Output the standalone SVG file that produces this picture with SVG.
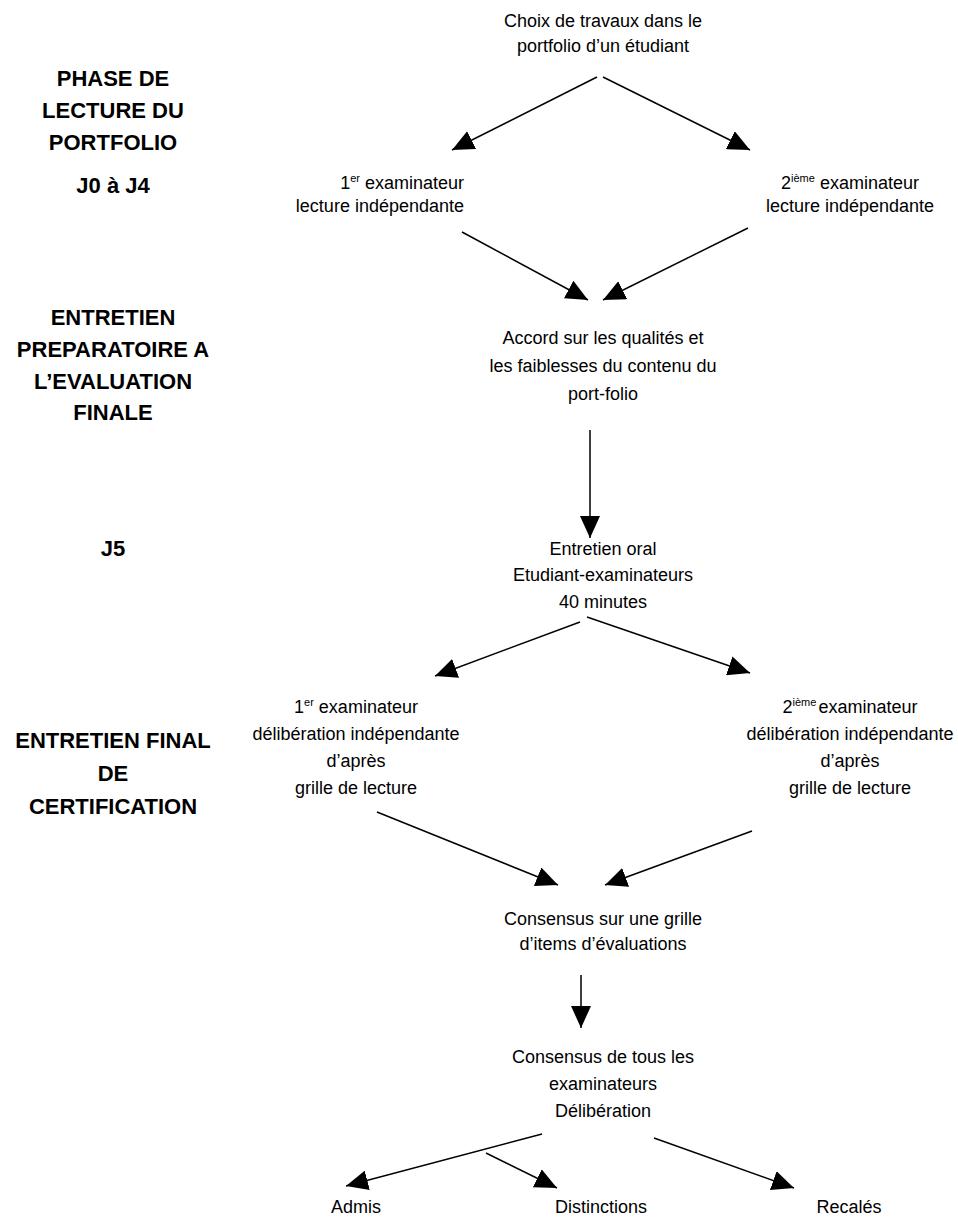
<svg xmlns="http://www.w3.org/2000/svg" width="958" height="1220" viewBox="0 0 958 1220">
<style>
.t{font-family:"Liberation Sans",Arial,sans-serif;font-size:18px;fill:#000;text-anchor:middle}
.e{text-anchor:end}
.b{font-family:"Liberation Sans",Arial,sans-serif;font-size:22px;font-weight:bold;fill:#000;text-anchor:middle}
.s{font-size:11px}
.c{stroke:#000;stroke-width:1.5;fill:none;marker-end:url(#ah)}
</style>
<defs>
<marker id="ah" markerUnits="userSpaceOnUse" viewBox="0 0 22 20" refX="22" refY="10" markerWidth="22" markerHeight="20" orient="auto">
<path d="M0,0 L22,10 L0,20 z" fill="#000"/>
</marker>
</defs>
<rect width="958" height="1220" fill="#fff"/>
<g id="phases">
<text class="b" x="113" y="86">PHASE DE</text>
<text class="b" x="113" y="118">LECTURE DU</text>
<text class="b" x="113" y="150">PORTFOLIO</text>
<text class="b" x="113" y="193">J0 à J4</text>
<text class="b" x="113" y="325">ENTRETIEN</text>
<text class="b" x="113" y="357">PREPARATOIRE A</text>
<text class="b" x="113" y="389">L’EVALUATION</text>
<text class="b" x="113" y="420">FINALE</text>
<text class="b" x="113" y="556">J5</text>
<text class="b" x="113" y="748">ENTRETIEN FINAL</text>
<text class="b" x="113" y="781">DE</text>
<text class="b" x="113" y="814">CERTIFICATION</text>
</g>
<g id="n-choix">
<text class="t" x="603" y="27">Choix de travaux dans le</text>
<text class="t" x="603" y="52">portfolio d’un étudiant</text>
</g>
<g id="n-exam1">
<text class="t e" x="464" y="189">1<tspan class="s" dy="-7">er</tspan><tspan dy="7"> examinateur</tspan></text>
<text class="t e" x="464" y="212">lecture indépendante</text>
</g>
<g id="n-exam2">
<text class="t" x="850" y="189">2<tspan class="s" dy="-7">ième</tspan><tspan dy="7"> examinateur</tspan></text>
<text class="t" x="850" y="212">lecture indépendante</text>
</g>
<g id="n-accord">
<text class="t" x="603" y="344">Accord sur les qualités et</text>
<text class="t" x="603" y="372">les faiblesses du contenu du</text>
<text class="t" x="603" y="400">port-folio</text>
</g>
<g id="n-oral">
<text class="t" x="603" y="555">Entretien oral</text>
<text class="t" x="603" y="581">Etudiant-examinateurs</text>
<text class="t" x="603" y="608">40 minutes</text>
</g>
<g id="n-delib1">
<text class="t" x="356" y="713">1<tspan class="s" dy="-7">er</tspan><tspan dy="7"> examinateur</tspan></text>
<text class="t" x="356" y="740">délibération indépendante</text>
<text class="t" x="356" y="767">d’après</text>
<text class="t" x="356" y="794">grille de lecture</text>
</g>
<g id="n-delib2">
<text class="t" x="850" y="713">2<tspan class="s" dy="-7">ième</tspan><tspan dy="7" dx="2">examinateur</tspan></text>
<text class="t" x="850" y="740">délibération indépendante</text>
<text class="t" x="850" y="767">d’après</text>
<text class="t" x="850" y="794">grille de lecture</text>
</g>
<g id="n-grille">
<text class="t" x="603" y="925">Consensus sur une grille</text>
<text class="t" x="603" y="950">d’items d’évaluations</text>
</g>
<g id="n-tous">
<text class="t" x="603" y="1063">Consensus de tous les</text>
<text class="t" x="603" y="1090">examinateurs</text>
<text class="t" x="603" y="1117">Délibération</text>
</g>
<g id="n-admis"><text class="t" x="356" y="1213">Admis</text></g>
<g id="n-dist"><text class="t" x="601" y="1213">Distinctions</text></g>
<g id="n-recal"><text class="t" x="849" y="1213">Recalés</text></g>
<g id="connectors">
<line class="c" x1="597" y1="77" x2="452" y2="150"/>
<line class="c" x1="603" y1="77" x2="750" y2="150"/>
<line class="c" x1="462" y1="232" x2="588" y2="300"/>
<line class="c" x1="748" y1="228" x2="603" y2="300"/>
<line class="c" x1="590" y1="430" x2="590" y2="538"/>
<line class="c" x1="580" y1="622" x2="435" y2="676"/>
<line class="c" x1="587" y1="617" x2="750" y2="673"/>
<line class="c" x1="377" y1="812" x2="558" y2="885"/>
<line class="c" x1="752" y1="831" x2="605" y2="885"/>
<line class="c" x1="581" y1="975" x2="581" y2="1028"/>
<line class="c" x1="542" y1="1134" x2="346" y2="1186"/>
<line class="c" x1="486" y1="1153" x2="557" y2="1188"/>
<line class="c" x1="654" y1="1138" x2="794" y2="1188"/>
</g>
</svg>
